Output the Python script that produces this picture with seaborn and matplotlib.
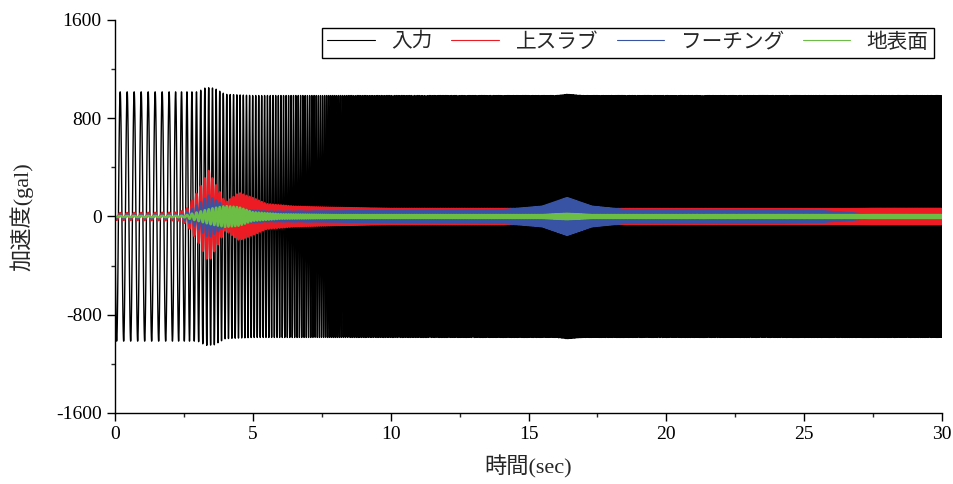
import numpy as np
import pandas as pd
import matplotlib.pyplot as plt
import seaborn as sns
from matplotlib.ticker import MultipleLocator

# Sweep frequency, read from the peak spacing of the input trace (sec, Hz)
freq_t = [0, 1.9, 2.5, 3.0, 3.5, 4.7, 5.2, 6.7, 7.9, 9.0, 30]
freq_hz = [3.94, 3.94, 5.0, 6.4, 7.4, 8.7, 9.2, 11.8, 13.8, 16.0, 25.0]

# Amplitude envelopes (sec, gal)
input_t = [0, 3.0, 3.3, 3.6, 4.0, 5.0, 16.0, 16.4, 17.0, 30]
input_amp = [1015, 1015, 1050, 1045, 995, 985, 985, 995, 985, 985]

slab_t = [0, 2.3, 2.6, 3.0, 3.4, 3.7, 4.0, 4.5, 5.0, 5.5, 6.5, 8.0, 10.0, 26.5, 27.5, 30]
slab_amp = [27, 30, 60, 200, 370, 240, 110, 190, 150, 100, 80, 70, 62, 60, 62, 62]

footing_t = [0, 2.4, 2.8, 3.4, 3.8, 4.2, 4.7, 5.5, 8.0, 10.0, 14.0, 15.5, 16.4, 17.3, 18.5,
             22.0, 24.0, 25.5, 26.5, 27.5, 30]
footing_amp = [10, 12, 60, 170, 110, 45, 55, 40, 42, 46, 50, 80, 150, 80, 52,
               52, 50, 44, 30, 10, 8]

ground_t = [0, 2.5, 3.0, 3.5, 4.0, 4.5, 5.0, 6.0, 8.0, 15.5, 16.4, 17.3, 30]
ground_amp = [4, 6, 35, 65, 85, 75, 35, 18, 12, 12, 22, 12, 12]

labels = ["入力", "上スラブ", "フーチング", "地表面"]
colors = ["black", "#ed1c24", "#3953a4", "#6cbd45"]

t = np.linspace(0, 30, 30001)
dt = t[1] - t[0]
phase = 2 * np.pi * np.cumsum(np.interp(t, freq_t, freq_hz)) * dt
carrier = -np.sin(phase)

series = [
    np.interp(t, input_t, input_amp) * carrier,
    np.interp(t, slab_t, slab_amp) * carrier,
    np.interp(t, footing_t, footing_amp) * carrier,
    np.interp(t, ground_t, ground_amp) * carrier,
]

sns.set_style("ticks")
plt.rcParams["font.family"] = ["Liberation Serif", "Noto Sans CJK JP"]
plt.rcParams["axes.unicode_minus"] = False
plt.rcParams["path.simplify"] = False

fig = plt.figure(figsize=(9.54, 4.84), dpi=100)
ax = fig.add_axes([0.1205, 0.1467, 0.867, 0.812])

widths = [1.0, 1.8, 1.8, 1.8]
for y, lab, c, w in zip(series, labels, colors, widths):
    sns.lineplot(x=t, y=y, ax=ax, color=c, lw=w, label=lab, estimator=None)

ax.set_xlim(0, 30)
ax.set_ylim(-1600, 1600)
ax.xaxis.set_major_locator(MultipleLocator(5))
ax.xaxis.set_minor_locator(MultipleLocator(2.5))
ax.yaxis.set_major_locator(MultipleLocator(800))
ax.yaxis.set_minor_locator(MultipleLocator(400))
ax.tick_params(which="major", direction="out", length=6, width=1, labelsize=14, colors="black")
ax.tick_params(which="minor", direction="out", length=3, width=1)
for s in ["top", "right"]:
    ax.spines[s].set_visible(False)
for s in ["left", "bottom"]:
    ax.spines[s].set_color("black")
    ax.spines[s].set_linewidth(1)

ax.set_xlabel("時間(sec)", fontsize=16, labelpad=9)
ax.set_ylabel("加速度(gal)", fontsize=16, labelpad=16)

leg = ax.legend(ncol=4, loc="upper right", bbox_to_anchor=(0.99, 0.98), fontsize=14.9,
                frameon=True, fancybox=False, edgecolor="black", framealpha=1,
                handlelength=2.3, handletextpad=0.8, columnspacing=0.9,
                borderpad=0.25, borderaxespad=0)
leg.get_frame().set_linewidth(1)
for h in leg.get_lines():
    h.set_linewidth(0.8)

fig.savefig("out.png", dpi=100)
